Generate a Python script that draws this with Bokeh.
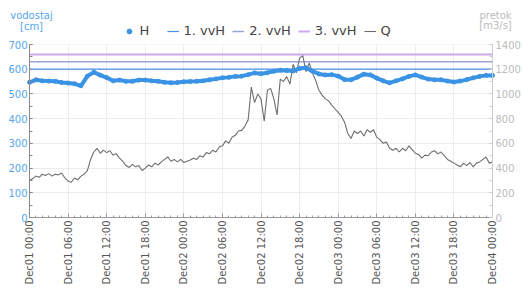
import pandas as pd
from bokeh.plotting import figure
from bokeh.models import (LinearAxis, Range1d, FixedTicker, DatetimeTickFormatter,
                          Legend, LegendItem, Label, BoxAnnotation)
from bokeh.embed import file_html
from bokeh.resources import INLINE

# ---------------- data ----------------
START = "2023-12-01 00:00"
END = "2023-12-04 00:00"

# water level H [cm], hourly
H = [547, 557, 553, 552, 551, 546, 544, 541, 533, 572, 588, 576,
     566, 553, 556, 551, 551, 556, 556, 553, 551, 547, 545, 546,
     549, 550, 551, 553, 557, 561, 565, 567, 571, 572, 578, 585,
     582, 586, 592, 596, 595, 593, 603, 606, 592, 581, 577, 578,
     572, 558, 557, 568, 580, 577, 564, 553, 545, 553, 561, 571,
     577, 568, 560, 557, 557, 552, 548, 552, 558, 565, 571, 575,
     575]

# discharge Q [m3/s], half-hourly
Q = [300, 315, 335, 325, 350, 340, 355, 335, 350, 345, 360, 320,
     295, 285, 320, 305, 335, 350, 380, 470, 530, 560, 520, 545,
     525, 540, 505, 515, 480, 455, 420, 405, 430, 410, 420, 380,
     400, 425, 410, 440, 425, 450, 470, 490, 455, 470, 450, 470,
     445, 455, 465, 480, 470, 500, 490, 525, 515, 545, 530, 570,
     580, 620, 600, 650, 665, 700, 705, 740, 790, 1055, 930, 1000,
     960, 780, 1030, 1045, 960, 830, 1120, 1100, 1140, 1080, 1240, 1170,
     1290, 1310, 1180, 1250, 1170, 1110, 1030, 990, 960, 945, 910, 880,
     850, 820, 770, 680, 640, 700, 680, 700, 660, 710, 690, 710,
     650, 630, 600, 610, 560, 545, 560, 530, 560, 540, 580, 550,
     520, 510, 480, 505, 500, 530, 540, 515, 530, 500, 470, 455,
     440, 425, 410, 440, 420, 445, 410, 440, 450, 470, 490, 440,
     450]

VVH = [600, 630, 660]
VVH_NAMES = ["1. vvH", "2. vvH", "3. vvH"]

H_MAX = 700
Q_MAX = 1400
H_TICKS = [0, 100, 200, 300, 400, 500, 600, 700]
Q_TICKS = [0, 200, 400, 600, 800, 1000, 1200, 1400]

t_h = pd.date_range(START, END, freq="1h")
t_q = pd.date_range(START, END, freq="30min")
t_major = pd.date_range(START, END, freq="6h")
t_minor = pd.date_range(START, END, freq="1h")


def ms(ts):
    return [float(x.value // 10**6) for x in ts]


T0 = ms([pd.Timestamp(START)])[0]
T1 = ms([pd.Timestamp(END)])[0]

# ---------------- layout (pixels inside the canvas) ----------------
W, HT = 523, 293
PL, PR = 29, 492      # plot area left / right
PT, PB = 44, 217      # plot area top / bottom

ms_per_px = (T1 - T0) / (PR - PL)
cm_per_px = H_MAX / (PB - PT)
x_start = T0 - PL * ms_per_px
x_end = T1 + (W - PR) * ms_per_px
y_start = -(HT - PB) * cm_per_px
y_end = H_MAX + PT * cm_per_px
qf = Q_MAX / H_MAX

FONT = "DejaVu Sans"
p = figure(width=W, height=HT,
           x_axis_type="datetime", output_backend="svg", toolbar_location=None,
           x_range=Range1d(x_start, x_end), y_range=Range1d(y_start, y_end),
           min_border_left=0, min_border_right=0, min_border_top=0,
           min_border_bottom=0)
p.outline_line_color = None
p.extra_y_ranges = {"q": Range1d(y_start * qf, y_end * qf)}

# grids
p.xgrid.ticker = FixedTicker(ticks=ms(t_major))
p.ygrid.ticker = FixedTicker(ticks=H_TICKS)
p.xgrid.grid_line_color = "#ececec"
p.ygrid.grid_line_color = "#ececec"

# white masks so grid lines stay inside the plot area
for kw in [dict(right=T0), dict(left=T1), dict(bottom=H_MAX), dict(top=0)]:
    p.add_layout(BoxAnnotation(fill_color="white", fill_alpha=1, line_color=None,
                               level="underlay", **kw))

# x axis
xa = p.xaxis[0]
xa.fixed_location = 0
xa.bounds = (T0, T1)
xa.ticker = FixedTicker(ticks=ms(t_major), minor_ticks=ms(t_minor))
xa.formatter = DatetimeTickFormatter(hours="%b%d %H:%M", days="%b%d %H:%M",
                                     months="%b%d %H:%M", minutes="%b%d %H:%M")
xa.major_label_orientation = 1.5708
xa.major_label_text_font = FONT
xa.major_label_text_font_size = "10px"
xa.major_label_text_color = "#555555"
xa.major_label_standoff = 3
xa.axis_line_color = "#999999"
xa.major_tick_line_color = "#999999"
xa.minor_tick_line_color = "#999999"
xa.major_tick_in = 4
xa.major_tick_out = 0
xa.minor_tick_in = 2
xa.minor_tick_out = 0

# left axis
ya = p.yaxis[0]
ya.fixed_location = T0
ya.bounds = (0, H_MAX)
ya.ticker = FixedTicker(ticks=H_TICKS, minor_ticks=list(range(0, H_MAX + 1, 50)))
ya.major_label_text_font = FONT
ya.major_label_text_font_size = "10px"
ya.major_label_text_color = "#55a6ee"
ya.major_label_standoff = 2
ya.axis_line_color = "#888888"
ya.major_tick_line_color = "#888888"
ya.minor_tick_line_color = "#888888"
ya.major_tick_in = 3
ya.major_tick_out = 0
ya.minor_tick_in = 3
ya.minor_tick_out = 0

# right axis
ra = LinearAxis(y_range_name="q", fixed_location=T1, bounds=(0, Q_MAX),
                ticker=FixedTicker(ticks=Q_TICKS, minor_ticks=list(range(0, Q_MAX + 1, 100))))
ra.major_label_text_font = FONT
ra.major_label_text_font_size = "10px"
ra.major_label_text_color = "#bbbbbb"
ra.major_label_standoff = 3
ra.axis_line_color = "#cccccc"
ra.major_tick_line_color = "#cccccc"
ra.minor_tick_line_color = "#cccccc"
ra.major_tick_in = 3
ra.major_tick_out = 0
ra.minor_tick_in = 3
ra.minor_tick_out = 0
p.add_layout(ra, "right")

# glyphs
vv_colors = ["#4a8fe8", "#9aa3d6", "#cfa6f2"]
vv_widths = [1.2, 1.5, 2]
vv_r = []
for lvl, c, w in zip(VVH, vv_colors, vv_widths):
    vv_r.append(p.line([T0, T1], [lvl, lvl], line_color=c, line_width=w))

q_r = p.line(ms(t_q), Q, line_color="#6e6e6e", line_width=1.1, y_range_name="q")

H_COLOR = "#3a93e4"
p.line(ms(t_h), H, line_color=H_COLOR, line_width=4)
h_r = p.scatter(ms(t_h), H, size=4, color=H_COLOR)

legend = Legend(items=[LegendItem(label="H", renderers=[h_r])] +
                [LegendItem(label=n, renderers=[r]) for n, r in zip(VVH_NAMES, vv_r)] +
                [LegendItem(label="Q", renderers=[q_r])],
                orientation="horizontal", location="top",
                border_line_color=None, background_fill_alpha=0,
                label_text_font=FONT, label_text_font_size="13px",
                label_text_color="#444444",
                glyph_width=12, glyph_height=12, label_height=14,
                label_standoff=5, spacing=7, padding=3, margin=23)
p.add_layout(legend, "center")

# axis titles
for txt, yo in [("vodostaj", 29), ("[cm]", 18)]:
    p.add_layout(Label(x=T0, y=H_MAX, text=txt, x_offset=2, y_offset=yo,
                       text_align="center", text_baseline="middle",
                       text_font=FONT, text_font_size="10px",
                       text_color="#55a6ee"))
for txt, yo in [("pretok", 29), ("[m3/s]", 19)]:
    p.add_layout(Label(x=T1, y=H_MAX, text=txt, x_offset=3, y_offset=yo,
                       text_align="center", text_baseline="middle",
                       text_font=FONT, text_font_size="10px",
                       text_color="#bbbbbb"))

open("out.html", "w").write(file_html(p, INLINE))
